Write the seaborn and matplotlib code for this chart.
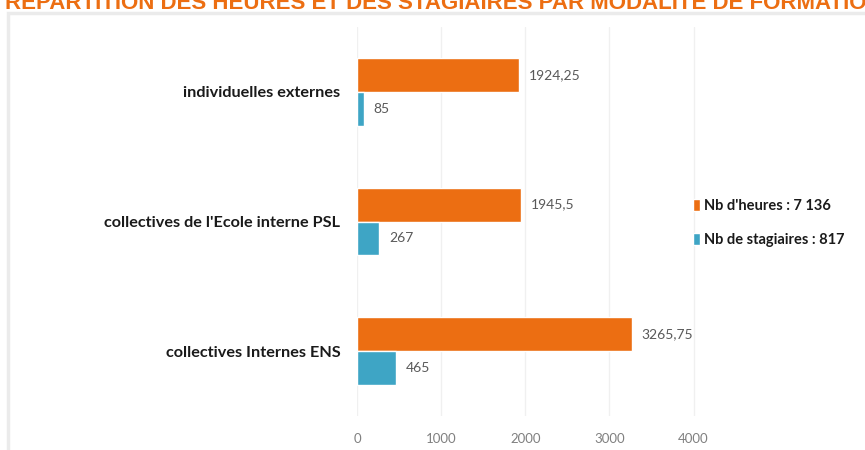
import matplotlib
matplotlib.use("Agg")
import matplotlib.pyplot as plt
from matplotlib.patches import Rectangle
import seaborn as sns
import pandas as pd

# Training data by modality
modalites = ["individuelles externes",
             "collectives de l'Ecole interne PSL",
             "collectives Internes ENS"]
heures = [1924.25, 1945.5, 3265.75]
stagiaires = [85, 267, 465]
xticks = [0, 1000, 2000, 3000, 4000]

titre = "REPARTITION DES HEURES ET DES STAGIAIRES PAR MODALITE DE FORMATION"

orange = "#EC6E12"
teal = "#3EA5C5"


def fr(v):
    s = f"{v:.2f}".rstrip("0").rstrip(".")
    return s.replace(".", ",")


def milliers(v):
    return f"{round(v):,}".replace(",", " ")


serie_h = f"Nb d'heures : {milliers(sum(heures))}"
serie_s = f"Nb de stagiaires : {milliers(sum(stagiaires))}"

df = pd.DataFrame({
    "Modalité": modalites * 2,
    "Valeur": heures + stagiaires,
    "Série": [serie_h] * 3 + [serie_s] * 3,
})

sns.set_theme(style="white")
plt.rcParams["font.family"] = ["Lato", "DejaVu Sans"]

fig = plt.figure(figsize=(8.65, 4.5), dpi=100)
fig.patch.set_facecolor("white")

# panel frame
fig.patches.append(Rectangle((8 / 865, -0.05), 1.0, 1 - 13 / 450 + 0.05,
                             transform=fig.transFigure, fill=False,
                             edgecolor="#ebebeb", linewidth=2.5, zorder=0))

fig.text(5 / 865, 1 - 9 / 450, titre, color=orange, fontsize=16,
         fontweight="bold", family="Liberation Sans", va="baseline", ha="left")

ax = fig.add_axes([357 / 865, 34 / 450, (702 - 357) / 865, (423 - 34) / 450])

sns.barplot(data=df, y="Modalité", x="Valeur", hue="Série",
            palette=[orange, teal], width=0.52, orient="h",
            saturation=1, ax=ax, legend=True)

for cont in ax.containers:
    vals = cont.datavalues
    ax.bar_label(cont, labels=[fr(v) for v in vals], padding=7,
                 color="#595959", fontsize=10)

ax.set_xlim(0, 4100)
ax.set_ylim(2.5, -0.5)
ax.set_xticks(xticks)
ax.set_xticklabels([str(t) for t in xticks], color="#808080", fontsize=9.5)
ax.tick_params(axis="x", length=0, pad=12)
ax.tick_params(axis="y", length=0, pad=12)
for lab in ax.get_yticklabels():
    lab.set_fontweight("bold")
    lab.set_fontsize(11.7)
    lab.set_color("#1a1a1a")
ax.xaxis.grid(True, color="#f0f0f0", linewidth=1)
ax.set_axisbelow(True)
for s in ax.spines.values():
    s.set_visible(False)
ax.set_xlabel("")
ax.set_ylabel("")

handles, labels = ax.get_legend_handles_labels()
ax.legend_.remove()
leg = fig.legend(handles, labels, loc="center left",
                 bbox_to_anchor=(680 / 865, 1 - 223 / 450),
                 frameon=False, handlelength=0.45, handleheight=0.9,
                 handletextpad=0.3, labelspacing=1.35, fontsize=10.5)
for t in leg.get_texts():
    t.set_fontweight("bold")
    t.set_color("#1a1a1a")

fig.savefig("out.png", dpi=100, facecolor="white")
